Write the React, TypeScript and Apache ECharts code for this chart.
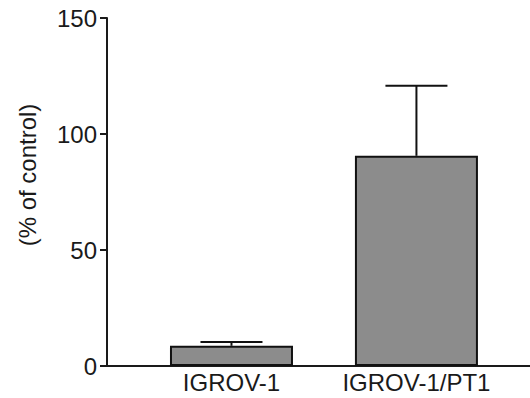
import React, { useEffect, useRef } from "react";
import * as echarts from "echarts";

const categories = ["IGROV-1", "IGROV-1/PT1"];
const categoryPositions = [1, 2];
const meanValues = [8.7, 90.6];
const upperValues = [10.3, 120.8];
const yTicks = [0, 50, 100, 150];
const yAxisTitle = "(% of control)";

export default function App() {
  const ref = useRef<HTMLDivElement>(null);
  useEffect(() => {
    if (!ref.current) return;
    const chart = echarts.init(ref.current, undefined, { renderer: "svg" });
    const font = "'Liberation Sans', Arial, Helvetica, sans-serif";
    const barData = categoryPositions.map((x, i) => [x, meanValues[i]]);
    const errData = categoryPositions.map((x, i) => [x, meanValues[i], upperValues[i]]);
    chart.setOption({
      animation: false,
      backgroundColor: "#ffffff",
      grid: { left: 107, right: 0, top: 18, bottom: 32 },
      xAxis: {
        type: "value",
        min: 0.327,
        max: 2.614,
        splitLine: { show: false },
        axisTick: { show: false },
        axisLine: { show: true, lineStyle: { color: "#1a1a1a", width: 2 } },
        axisLabel: {
          customValues: categoryPositions,
          formatter: (v: number) => {
            const idx = categoryPositions.indexOf(Math.round(v));
            return idx >= 0 ? categories[idx] : "";
          },
          color: "#1a1a1a",
          fontSize: 24,
          fontFamily: font,
          margin: 4,
        },
      },
      yAxis: {
        type: "value",
        min: yTicks[0],
        max: yTicks[yTicks.length - 1],
        interval: 50,
        splitLine: { show: false },
        axisLine: { show: true, lineStyle: { color: "#1a1a1a", width: 2 } },
        axisTick: { show: true, length: 7, lineStyle: { color: "#1a1a1a", width: 2 } },
        axisLabel: {
          color: "#1a1a1a",
          fontSize: 24,
          fontFamily: font,
          margin: 10,
        },
      },
      graphic: [
        {
          type: "text",
          x: 27,
          y: 175,
          rotation: Math.PI / 2,
          style: {
            text: yAxisTitle,
            fontSize: 24,
            fontFamily: font,
            fill: "#1a1a1a",
            textAlign: "center",
            textVerticalAlign: "middle",
          },
        },
      ],
      series: [
        {
          type: "bar",
          data: barData,
          barWidth: 123,
          itemStyle: { color: "#8c8c8c", borderColor: "#111111", borderWidth: 2 },
          z: 2,
        },
        {
          type: "custom",
          data: errData,
          z: 1,
          renderItem: (params: any, api: any) => {
            const x = api.value(0);
            const base = api.coord([x, api.value(1)]);
            const top = api.coord([x, api.value(2)]);
            const half = 31;
            const style = { stroke: "#111111", lineWidth: 2 };
            return {
              type: "group",
              children: [
                { type: "line", shape: { x1: base[0], y1: base[1], x2: top[0], y2: top[1] }, style },
                { type: "line", shape: { x1: top[0] - half, y1: top[1], x2: top[0] + half, y2: top[1] }, style },
              ],
            };
          },
        },
      ],
    });
    return () => chart.dispose();
  }, []);
  return (
    <div
      ref={ref}
      style={{ position: "fixed", left: 0, top: 0, width: 530, height: 398, background: "#fff" }}
    />
  );
}
